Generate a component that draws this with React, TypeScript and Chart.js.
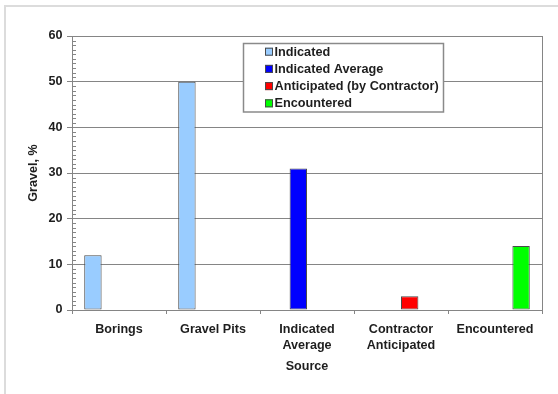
import React, { useEffect, useRef } from "react";
import { Chart, registerables } from "chart.js";

Chart.register(...registerables);

// Gravel content by source
const categories: (string | string[])[] = [
  "Borings",
  "Gravel Pits",
  ["Indicated", "Average"],
  ["Contractor", "Anticipated"],
  "Encountered",
];
const indicated: (number | null)[] = [12, 50, null, null, null];
const indicatedAverage: (number | null)[] = [null, null, 31, null, null];
const anticipated: (number | null)[] = [null, null, null, 3, null];
const encountered: (number | null)[] = [null, null, null, null, 14];

const seriesNames = [
  "Indicated",
  "Indicated Average",
  "Anticipated (by Contractor)",
  "Encountered",
];
const seriesColors = ["#99CCFF", "#0000FF", "#FF0000", "#00FF00"];

const yTitle = "Gravel, %";
const xTitle = "Source";

const FONT = '"Liberation Sans", Arial, Helvetica, sans-serif';
const TEXT = "#1e1e1e";
const GRID = "#858585";
const EDGE = "#4a4a4a";

// Minor ticks on the value axis, the right-hand border and the inset legend
const decorations = {
  id: "decorations",
  afterDraw(chart: any) {
    const { ctx, chartArea, scales } = chart;
    const y = scales.y;
    ctx.save();
    ctx.strokeStyle = GRID;
    ctx.lineWidth = 1;
    ctx.beginPath();
    for (let v = 0; v <= 60; v++) {
      if (v % 10 === 0) continue;
      const py = Math.round(y.getPixelForValue(v)) + 0.5;
      ctx.moveTo(chartArea.left, py);
      ctx.lineTo(chartArea.left + 4, py);
    }
    const rx = Math.round(chartArea.right) + 0.5;
    ctx.moveTo(rx, chartArea.top);
    ctx.lineTo(rx, chartArea.bottom + 4);
    ctx.stroke();

    // legend box
    const bx = 243.5, by = 43.5, bw = 200, bh = 68.5;
    ctx.fillStyle = "#ffffff";
    ctx.fillRect(bx, by, bw, bh);
    ctx.strokeStyle = "#8a8a8a";
    ctx.lineWidth = 1.5;
    ctx.strokeRect(bx, by, bw, bh);

    ctx.font = `bold 12.7px ${FONT}`;
    ctx.textBaseline = "middle";
    ctx.textAlign = "left";
    seriesNames.forEach((name, i) => {
      const cy = 51.7 + i * 17.2;
      ctx.fillStyle = seriesColors[i];
      ctx.fillRect(265, cy - 4, 8, 8);
      ctx.strokeStyle = EDGE;
      ctx.lineWidth = 1;
      ctx.strokeRect(265.5, cy - 3.5, 7, 7);
      ctx.fillStyle = TEXT;
      ctx.fillText(name, 274.5, cy + 0.5);
    });
    ctx.restore();
  },
};

function GravelChart() {
  const canvasRef = useRef<HTMLCanvasElement | null>(null);

  useEffect(() => {
    if (!canvasRef.current) return;
    const series = [indicated, indicatedAverage, anticipated, encountered];
    const chart = new Chart(canvasRef.current, {
      type: "bar",
      data: {
        labels: categories as any,
        datasets: series.map((data, i) => ({
          label: seriesNames[i],
          data,
          backgroundColor: seriesColors[i],
          borderColor: EDGE,
          borderWidth: 1,
          borderSkipped: false,
          barPercentage: 1,
          categoryPercentage: 0.74,
        })),
      },
      options: {
        animation: false,
        responsive: false,
        maintainAspectRatio: false,
        layout: { padding: { left: 0, right: 16, top: 36, bottom: 0 } },
        plugins: {
          legend: { display: false },
          tooltip: { enabled: false },
        },
        scales: {
          x: {
            grid: {
              drawOnChartArea: false,
              drawTicks: true,
              tickLength: 4,
              color: GRID,
              offset: true,
            },
            border: { display: true, color: GRID },
            ticks: {
              color: TEXT,
              padding: 7,
              maxRotation: 0,
              autoSkip: false,
              font: { family: FONT, size: 12.6, weight: "bold", lineHeight: 1.32 },
            },
            title: {
              display: true,
              text: xTitle,
              color: TEXT,
              font: { family: FONT, size: 12.6, weight: "bold" },
              padding: { top: 0, bottom: 19.5 },
            },
            afterFit(scale: any) {
              scale.height = 84;
            },
          },
          y: {
            min: 0,
            max: 60,
            ticks: {
              stepSize: 10,
              color: TEXT,
              padding: 4.5,
              font: { family: FONT, size: 12.6, weight: "bold" },
            },
            grid: { color: GRID, tickLength: 5, lineWidth: 1 },
            border: { display: true, color: GRID },
            title: {
              display: true,
              text: yTitle,
              color: TEXT,
              font: { family: FONT, size: 12.6, weight: "bold" },
              padding: { top: 26, bottom: 0 },
            },
            afterFit(scale: any) {
              scale.width = 72;
            },
          },
        },
      } as any,
      plugins: [decorations],
    });
    return () => chart.destroy();
  }, []);

  return <canvas ref={canvasRef} width={558} height={394} style={{ display: "block" }} />;
}

export default function App() {
  return (
    <div
      style={{
        position: "absolute",
        left: 0,
        top: 0,
        width: 558,
        height: 394,
        background: "#ffffff",
        overflow: "hidden",
      }}
    >
      <div
        style={{
          position: "absolute",
          left: 4,
          top: 5,
          right: -10,
          bottom: -10,
          borderTop: "2px solid #dcdcdc",
          borderLeft: "2px solid #dcdcdc",
        }}
      />
      <div style={{ position: "absolute", left: 0, top: 0 }}>
        <GravelChart />
      </div>
    </div>
  );
}
